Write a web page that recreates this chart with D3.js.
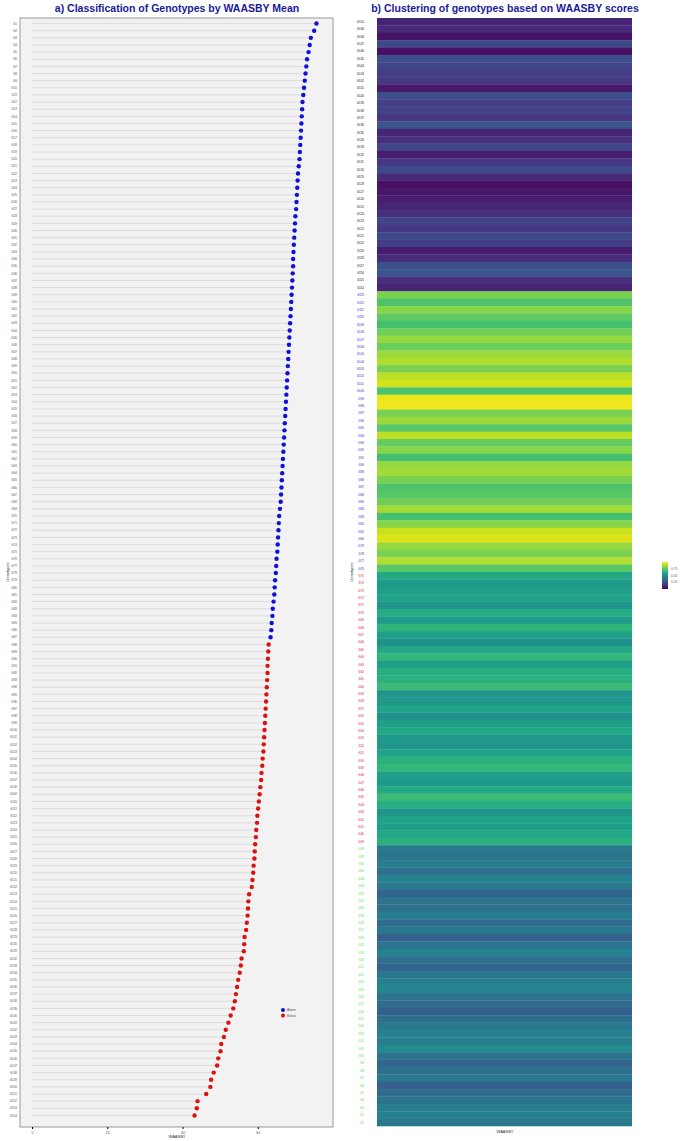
<!DOCTYPE html><html><head><script src="https://cdn.jsdelivr.net/npm/d3@7"></script>
<style>body{margin:0;background:#fff;font-family:"Liberation Sans",Arial,sans-serif}</style></head><body><svg id="c" width="685" height="1141"></svg>
<script>
const waasby=[75.6,75.0,74.1,73.8,73.5,73.1,72.9,72.7,72.5,72.3,72.1,71.9,71.8,71.7,71.6,71.5,71.4,71.3,71.2,71.1,70.9,70.7,70.6,70.5,70.4,70.3,70.2,70.0,69.9,69.8,69.7,69.6,69.5,69.4,69.4,69.3,69.2,69.1,69.0,68.9,68.8,68.7,68.6,68.5,68.4,68.3,68.2,68.1,68.0,67.9,67.8,67.7,67.6,67.5,67.4,67.3,67.2,67.1,67.0,66.9,66.8,66.7,66.6,66.5,66.4,66.3,66.2,66.1,65.9,65.7,65.6,65.5,65.4,65.3,65.2,65.0,64.9,64.8,64.6,64.5,64.4,64.2,64.0,63.9,63.7,63.6,63.4,
62.9,62.8,62.7,62.6,62.6,62.5,62.4,62.3,62.2,62.1,62.0,61.9,61.8,61.7,61.6,61.5,61.3,61.2,61.0,60.9,60.7,60.5,60.3,60.1,59.9,59.8,59.6,59.5,59.3,59.2,59.1,58.9,58.8,58.6,58.4,57.7,57.5,57.4,57.3,57.1,56.9,56.5,56.4,56.3,55.7,55.5,55.2,54.8,54.5,54.2,53.9,53.5,52.8,52.2,51.5,51.0,50.3,50.1,49.5,49.2,48.3,47.6,47.4,46.3,44.0,43.8,43.2];
const groupN=[87,waasby.length-87];
const heat=[0.10,0.12,0.05,0.22,0.04,0.24,0.20,0.18,0.16,0.06,0.24,0.18,0.20,0.16,0.26,0.10,0.14,0.20,0.08,0.16,0.22,0.12,0.04,0.06,0.08,0.10,0.14,0.20,0.16,0.22,0.18,0.08,0.12,0.24,0.26,0.14,0.10,
0.80,0.72,0.82,0.75,0.70,0.78,0.84,0.77,0.85,0.88,0.80,0.90,0.93,0.72,0.97,0.98,0.80,0.85,0.74,0.90,0.76,0.82,0.70,0.84,0.86,0.80,0.72,0.74,0.78,0.86,0.70,0.82,0.92,0.95,0.84,0.80,0.88,0.74,
0.60,0.54,0.56,0.58,0.52,0.62,0.55,0.65,0.57,0.50,0.60,0.66,0.56,0.62,0.64,0.68,0.52,0.54,0.58,0.50,0.56,0.60,0.54,0.52,0.58,0.64,0.66,0.56,0.54,0.60,0.68,0.62,0.52,0.58,0.56,0.60,0.64,
0.40,0.38,0.42,0.36,0.44,0.40,0.32,0.38,0.36,0.42,0.34,0.40,0.30,0.38,0.44,0.36,0.32,0.40,0.42,0.46,0.38,0.34,0.30,0.36,0.40,0.44,0.42,0.48,0.38,0.32,0.36,0.40,0.30,0.34,0.38,0.42,0.44,0.40];
const heatGroups=[37,38,37,38];
const heatLabelColors=["#222","#3333cc","#dd2222","#55dd55"];
const legendTicks=[0.25,0.5,0.75];
const genoLeft=waasby.map((d,i)=>"G"+(i+1));
const genoRight=heat.map((d,i)=>"G"+(150-i));

const svg=d3.select("#c");
const L={x0:20,x1:333,y0:18,y1:1127};
svg.append("rect").attr("x",L.x0).attr("y",L.y0).attr("width",L.x1-L.x0).attr("height",L.y1-L.y0).attr("fill","#f2f2f2").attr("stroke","#999");
const x=d3.scaleLinear().domain([-3.2,80]).range([L.x0,L.x1]);
const y=d3.scaleBand().domain(genoLeft).range([L.y0+2,L.y1-8]);
const g=svg.append("g");
genoLeft.forEach((n,i)=>{
 const cy=y(n)+y.bandwidth()/2;
 g.append("line").attr("x1",x(0)).attr("x2",x(waasby[i])).attr("y1",cy).attr("y2",cy).attr("stroke","#d6d6d6").attr("stroke-width",0.8);
 g.append("circle").attr("cx",x(waasby[i])).attr("cy",cy).attr("r",2.2).attr("fill",i<groupN[0]?"#1010dd":"#dd1111");
 g.append("text").attr("x",L.x0-3).attr("y",cy+1.2).attr("text-anchor","end").attr("font-size",3).attr("fill","#555").text(n);
});
const xa=svg.append("g").attr("transform",`translate(0,${L.y1})`).call(d3.axisBottom(x).tickValues([0,20,40,60]).tickSize(2));
xa.selectAll("text").attr("font-size",3.5).attr("fill","#555");xa.select(".domain").remove();
svg.append("text").attr("x",177).attr("y",1138).attr("text-anchor","middle").attr("font-size",4).attr("fill","#333").text("WAASBY");
svg.append("text").attr("transform","translate(9,572) rotate(-90)").attr("text-anchor","middle").attr("font-size",4).attr("fill","#333").text("Genotypes");
svg.append("text").attr("x",177).attr("y",12).attr("text-anchor","middle").attr("font-size",10.5).attr("font-weight","bold").attr("fill","#1a1a9a").text("a) Classification of Genotypes by WAASBY Mean");
[["Above","#1010dd"],["Below","#dd1111"]].forEach((d,i)=>{
 svg.append("circle").attr("cx",283).attr("cy",1010+i*5.5).attr("r",2).attr("fill",d[1]);
 svg.append("text").attr("x",287).attr("y",1011.3+i*5.5).attr("font-size",3.2).attr("fill","#555").text(d[0]);
});
const R={x0:377,x1:632,y0:18,y1:1126};
const yr=d3.scaleBand().domain(genoRight).range([R.y0,R.y1]);
const col=d3.scaleSequential(d3.interpolateViridis).domain([0,1]);
let gi=0,cnt=0;
genoRight.forEach((n,i)=>{
 if(cnt>=heatGroups[gi]){gi++;cnt=0;} cnt++;
 svg.append("rect").attr("x",R.x0).attr("y",yr(n)).attr("width",R.x1-R.x0).attr("height",yr.bandwidth()+0.3).attr("fill",col(heat[i]));
 svg.append("text").attr("x",364).attr("y",yr(n)+yr.bandwidth()/2+1.2).attr("text-anchor","end").attr("font-size",3).attr("fill",heatLabelColors[gi]).text(n);
});
svg.append("text").attr("x",505).attr("y",12).attr("text-anchor","middle").attr("font-size",10.5).attr("font-weight","bold").attr("fill","#1a1a9a").text("b) Clustering of genotypes based on WAASBY scores");
svg.append("text").attr("x",505).attr("y",1133).attr("text-anchor","middle").attr("font-size",4).attr("fill","#333").text("WAASBY");
svg.append("text").attr("transform","translate(353,572) rotate(-90)").attr("text-anchor","middle").attr("font-size",4).attr("fill","#333").text("Genotypes");
const defs=svg.append("defs");const lg=defs.append("linearGradient").attr("id","vg").attr("x1",0).attr("x2",0).attr("y1",1).attr("y2",0);
d3.range(0,1.01,0.1).forEach(t=>lg.append("stop").attr("offset",t).attr("stop-color",col(t)));
const ly=d3.scaleLinear().domain([0,1]).range([589,562]);
svg.append("rect").attr("x",662).attr("y",562).attr("width",6).attr("height",27).attr("fill","url(#vg)");
legendTicks.forEach(t=>svg.append("text").attr("x",671).attr("y",ly(t)+1.2).attr("font-size",3.2).attr("fill","#555").text(t.toFixed(2)));
</script></body></html>
